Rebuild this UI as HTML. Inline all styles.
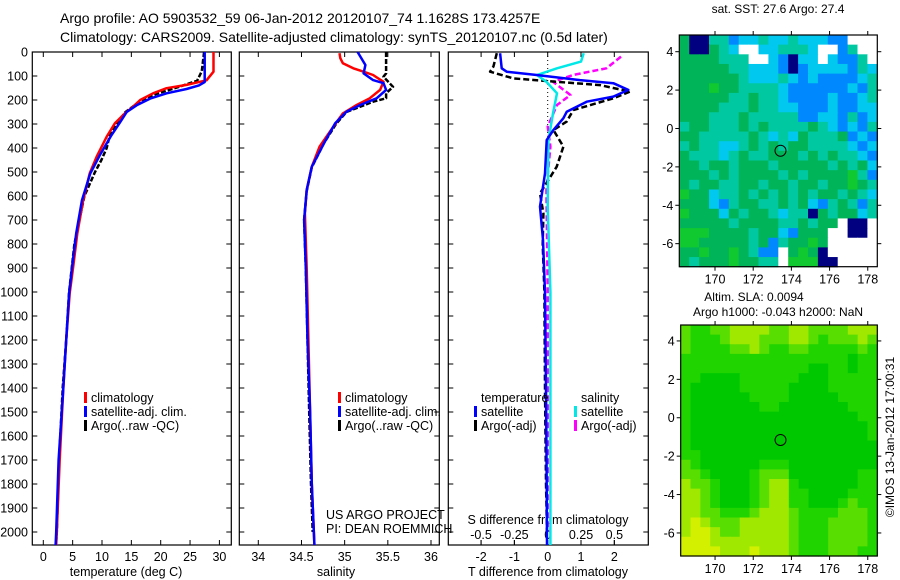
<!DOCTYPE html>
<html><head><meta charset="utf-8"><style>
body{margin:0;background:#fff;}
svg{display:block;font-family:"Liberation Sans",sans-serif;}
</style></head><body>
<svg id="c" width="900" height="580" viewBox="0 0 900 580"></svg>
<script>
// ---------- DATA ----------
const tDepth = [0,82,118,137,151,172,200,228,256,297,353,436,506,617,756,894,1006,1200,1400,1700,2000,2054];
const tClim  = [29.0,29.0,27.8,24.4,21.0,18.7,16.5,15.3,13.9,12.2,10.8,9.1,7.9,6.8,5.8,5.1,4.5,3.9,3.4,2.8,2.3,2.2];
const tSatDepth = [0,125,139,154,172,194,222,250,292,347,431,506,617,756,894,1006,1200,1400,1700,2000,2054];
const tSat   = [27.5,27.5,26.5,24.4,21.0,18.2,15.9,14.2,13.1,11.6,9.6,8.0,6.6,5.6,4.9,4.4,3.9,3.4,2.6,2.2,2.1];
const tArgoDepth = [0,80,120,150,175,200,250,300,350,400,450,500,600,800,1000,1200,1400,1700,2000,2040];
const tArgo  = [27.4,27.0,26.2,22.5,19.2,16.8,14.0,12.4,11.3,10.8,9.9,8.8,7.0,5.3,4.4,3.9,3.3,2.7,2.3,2.2];

const sDepth = [5,26,47,68,82,96,124,158,193,221,256,311,394,478,575,672,900,1200,1500,1800,2054];
const sClim  = [34.94,34.95,34.98,35.10,35.22,35.33,35.45,35.41,35.29,35.14,34.98,34.87,34.71,34.62,34.56,34.54,34.56,34.58,34.60,34.62,34.65];
const sSatDepth = [0,54,89,117,130,158,193,221,249,297,381,478,575,700,900,1200,1500,1800,2054];
const sSat   = [35.15,35.24,35.22,35.33,35.45,35.48,35.37,35.18,35.02,34.89,34.76,34.62,34.56,34.53,34.55,34.57,34.60,34.62,34.65];
const sArgoDepth = [0,89,103,145,172,193,207,250,300,380,480,580,700,900,1200,1500,1800,2000];
const sArgo  = [35.48,35.48,35.45,35.56,35.48,35.48,35.33,35.02,34.90,34.76,34.62,34.56,34.53,34.55,34.57,34.59,34.61,34.63];

const dDepth = [5,68,82,96,117,130,158,186,207,249,276,325,367,506,644,783,1000,1400,1800,2054];
const dTSat  = [-1.43,-1.38,-1.23,-0.33,0.97,1.97,2.42,1.97,1.17,0.57,0.47,0.17,-0.03,-0.08,-0.23,-0.14,-0.08,-0.05,-0.03,-0.02];
const dArgoDepth = [5,61,82,110,124,138,165,193,242,290,325,394,478,589,672,800,1000,1400,1800,2000];
const dTArgo = [-1.53,-1.63,-1.73,-1.03,0.27,1.57,2.47,1.97,0.77,0.57,0.17,0.47,0.27,-0.23,-0.13,-0.15,-0.1,-0.08,-0.05,-0.02];
const dSDepth = [5,40,68,96,124,172,256,367,644,1000,1500,2054];
const dSSat  = [0.27,0.25,0.07,-0.08,-0.01,0.07,0.04,0.005,0.0,0.02,0.02,0.02];
const dSArgoDepth = [19,68,96,124,179,221,311,394,575,1000,1500,2000];
const dSArgo = [0.55,0.44,0.19,0.04,0.17,0.07,0.0,0.02,-0.01,0.0,0.0,0.0];

const depthTicks = [0,100,200,300,400,500,600,700,800,900,1000,1100,1200,1300,1400,1500,1600,1700,1800,1900,2000];
const tTicks = [0,5,10,15,20,25,30];
const sTicks = [34,34.5,35,35.5,36];
const sTickLabels = ["34","34.5","35","35.5","36"];
const dtTicks = [-2,-1,0,1,2];
const dsTicks = [-0.5,-0.25,0,0.25,0.5];
const dsTickLabels = ["-0.5","-0.25","0","0.25","0.5"];
const lonTicks = [170,172,174,176,178];
const latTicks = [4,2,0,-2,-4,-6];

// SST map grid (rows lat top->bottom, cols lon left->right)
const sstRows = [
"Gnnttbcctcctcccbbwww",
"GnnGtcwwcctttcwwbtww",
"GGGGtttwwcbnccwcbbtw",
"GGGGGttcccbnbccccbtc",
"GGGGGGtccctcbcbbbbct",
"GGGgGGttttcbbbbbbcbt",
"GGGGGttGttcbbbbcbbct",
"GGGGtttGttccbbbcbbcc",
"GGGtttGtttttbbccbtbc",
"tGGtttGtGttttGtcbcbt",
"GGtttttGtctcGtttGbcb",
"tGttcctGtGtGGttttcbc",
"GtttctGttGGGtGtGttcb",
"GGtGGtGGGtGGGGGtGtGc",
"GGGtGtGGGGtGtGGGGgtb",
"GtGGttGGtGGtGGtGGgGt",
"gGGcttGtGtGtGtGGtGtc",
"GGGcbtGGttGtGcbtGtbt",
"gGGGcGtGGtcttnGtGGct",
"GGGGGtGGGGttGtGGwnnw",
"gggGGGGtGGcbGGGwwnnw",
"ggGGGGGtGbtGGgGwwwww",
"GGgGGgGtbbwGgGnwwwww",
"GtGGGgGGttwgggnnwwww"];
const slaRows = [
"21122333322332222333",
"21112333222332122232",
"21111223211221111121",
"11111111111111111011",
"11111111111110011011",
"11000011111100011111",
"10000011111000011111",
"10000001111000001111",
"10000000110000000111",
"10000000000000000011",
"10000000000000000001",
"10000000000000000001",
"10000000000000000000",
"11000000000000000000",
"21000000111000000000",
"22100001222000000011",
"32210001233100000011",
"33210001233110000111",
"33210001233110001211",
"33221112333211112221",
"34322233333211122221",
"34432233333211122221",
"44433333333211122221",
"44443334333211122211"];
const sstColors = {g:"#10c830",G:"#00b45a",t:"#00c8a0",c:"#00c8ee",b:"#0088ff",n:"#000080",w:"#ffffff"};
const slaColors = ["#00c800","#20d400","#58de00","#a0e800","#d2f000"];

// ---------- HELPERS ----------
const svg = document.getElementById('c');
const NS = "http://www.w3.org/2000/svg";
function el(tag, attrs, parent){
  const e = document.createElementNS(NS, tag);
  for (const k in attrs) e.setAttribute(k, attrs[k]);
  (parent||svg).appendChild(e);
  return e;
}
function txt(x,y,s,anchor,size,parent){
  const t = el('text',{x:x,y:y,'font-size':size||12.5,'text-anchor':anchor||'start',fill:'#000'},parent);
  t.textContent = s;
  return t;
}
const yD = d => 52 + d*0.24;
const xT = v => 43.3 + v*5.87;
const xS = v => 258.3 + (v-34)*86.35;
const xDT = v => 547.7 + v*33.3;
const xDS = v => 547.7 + v*133.3;

function line(xs, ds, fx, color, w, dash, name){
  const pts = xs.map((v,i)=> fx(v).toFixed(1)+","+yD(ds[i]).toFixed(1)).join(" ");
  const p = el('polyline',{points:pts,fill:'none',stroke:color,'stroke-width':w,'stroke-dasharray':dash||'none','stroke-linejoin':'round'});
  
  
}

// ---------- TITLES ----------
const title1 = txt(60,23,"Argo profile: AO 5903532_59 06-Jan-2012 20120107_74 1.1628S 173.4257E","start",14);


const title2 = txt(60,42,"Climatology: CARS2009. Satellite-adjusted climatology: synTS_20120107.nc (0.5d later)","start",14);



// ---------- PANEL FRAMES ----------
const panels = [[32.3,231.3,'temperature-panel'],[239.3,439.3,'salinity-panel'],[448.3,648.3,'difference-panel']];
panels.forEach(p=>{
  const r = el('rect',{x:p[0],y:52,width:p[1]-p[0],height:545-52,fill:'none',stroke:'#000','stroke-width':1.2});
  
  
  depthTicks.forEach(d=>{
    el('line',{x1:p[0],x2:p[0]+5,y1:yD(d),y2:yD(d),stroke:'#000'});
    el('line',{x1:p[1],x2:p[1]-5,y1:yD(d),y2:yD(d),stroke:'#000'});
  });
});
depthTicks.forEach(d=>{
  const t = txt(28,yD(d)+4.5,String(d),'end',12.5);
  
  
});

// temperature axis
tTicks.forEach(v=>{
  el('line',{x1:xT(v),x2:xT(v),y1:545,y2:540,stroke:'#000'});
  el('line',{x1:xT(v),x2:xT(v),y1:52,y2:57,stroke:'#000'});
  const t = txt(xT(v),561,String(v),'middle',12.5);
  
  
});
const tx1 = txt(126,576,"temperature (deg C)","middle",12.5);



// salinity axis
sTicks.forEach((v,i)=>{
  el('line',{x1:xS(v),x2:xS(v),y1:545,y2:540,stroke:'#000'});
  el('line',{x1:xS(v),x2:xS(v),y1:52,y2:57,stroke:'#000'});
  const t = txt(xS(v),561,sTickLabels[i],'middle',12.5);
  
  
});
const tx2 = txt(336,576,"salinity","middle",12.5);



// difference axes
dtTicks.forEach(v=>{
  el('line',{x1:xDT(v),x2:xDT(v),y1:545,y2:540,stroke:'#000'});
  el('line',{x1:xDT(v),x2:xDT(v),y1:52,y2:57,stroke:'#000'});
  const t = txt(xDT(v),561,String(v),'middle',12.5);
  
  
});
dsTicks.forEach((v,i)=>{
  el('line',{x1:xDS(v),x2:xDS(v),y1:545,y2:540,stroke:'#000'});
  const t = txt(xDS(v),539,dsTickLabels[i],'middle',12.5);
  
  
});
const tx3 = txt(548,524,"S difference from climatology","middle",12.5);


const tx4 = txt(548,576,"T difference from climatology","middle",12.5);


const zl = el('line',{x1:xDT(0),x2:xDT(0),y1:52,y2:yD(700),stroke:'#000','stroke-dasharray':'1 3'});



// ---------- SERIES ----------
line(tArgo,tArgoDepth,xT,'#000',2.5,'5 2','temp-argo-line');
line(tClim,tDepth,xT,'#ff0000',2.5,null,'temp-climatology-line');
line(tSat,tSatDepth,xT,'#0000ff',2.5,null,'temp-satellite-line');

line(sArgo,sArgoDepth,xS,'#000',2.5,'5 2','sal-argo-line');
line(sClim,sDepth,xS,'#ff0000',2.5,null,'sal-climatology-line');
line(sSat,sSatDepth,xS,'#0000ff',2.5,null,'sal-satellite-line');

line(dSArgo,dSArgoDepth,xDS,'#ff00ff',2.5,'6 3','s-diff-argo-line');
line(dTArgo,dArgoDepth,xDT,'#000',2.5,'6 3','t-diff-argo-line');
line(dSSat,dSDepth,xDS,'#00e8e8',2.5,null,'s-diff-satellite-line');
line(dTSat,dDepth,xDT,'#0000ff',2.5,null,'t-diff-satellite-line');

// ---------- LEGENDS ----------
function legend(x,y,color,label,name){
  const g = el('g',{});
  
  
  el('rect',{x:x,y:y-10,width:3,height:11,fill:color},g);
  txt(x+7,y,label,'start',12.5,g);
}
legend(84,402,'#ff0000','climatology','legend-climatology-temp');
legend(84,416,'#0000ff','satellite-adj. clim.','legend-satellite-temp');
legend(84,430,'#000','Argo(..raw -QC)','legend-argo-temp');
legend(338,402,'#ff0000','climatology','legend-climatology-sal');
legend(338,416,'#0000ff','satellite-adj. clim.','legend-satellite-sal');
legend(338,430,'#000','Argo(..raw -QC)','legend-argo-sal');
const lt = txt(481,402,"temperature","start",12.5);


const ls = txt(581,402,"salinity","start",12.5);


legend(474,416,'#0000ff','satellite','legend-t-satellite');
legend(474,430,'#000','Argo(-adj)','legend-t-argo');
legend(574,416,'#00e8e8','satellite','legend-s-satellite');
legend(574,430,'#ff00ff','Argo(-adj)','legend-s-argo');
const us = txt(326,519,"US ARGO PROJECT","start",12.5);


const pi = txt(326,533,"PI: DEAN ROEMMICH","start",12.5);



// ---------- MAPS ----------
function map(x0,x1,y0,y1,lonL,lonR,latT,latB,rows,colorFn,name){
  const g = el('g',{});
  
  
  const nr = rows.length, nc = rows[0].length;
  const cw = (x1-x0)/nc, ch = (y1-y0)/nr;
  rows.forEach((row,r)=>{
    for(let c=0;c<nc;c++){
      el('rect',{x:(x0+c*cw).toFixed(2),y:(y0+r*ch).toFixed(2),width:(cw+0.6).toFixed(2),height:(ch+0.6).toFixed(2),fill:colorFn(row[c])},g);
    }
  });
  const lx = v => x0 + (v-lonL)/(lonR-lonL)*(x1-x0);
  const ly = v => y0 + (latT-v)/(latT-latB)*(y1-y0);
  el('rect',{x:x0,y:y0,width:x1-x0,height:y1-y0,fill:'none',stroke:'#000','stroke-width':1.2},g);
  lonTicks.forEach(v=>{
    el('line',{x1:lx(v),x2:lx(v),y1:y1,y2:y1+4,stroke:'#000'},g);
    el('line',{x1:lx(v),x2:lx(v),y1:y0,y2:y0-4,stroke:'#000'},g);
    const t = txt(lx(v),y1+17,String(v),'middle',12.5,g);
    
    
  });
  latTicks.forEach(v=>{
    el('line',{x1:x0,x2:x0-4,y1:ly(v),y2:ly(v),stroke:'#000'},g);
    el('line',{x1:x1,x2:x1+4,y1:ly(v),y2:ly(v),stroke:'#000'},g);
    const t = txt(x0-6,ly(v)+4.5,String(v),'end',12.5,g);
    
    
  });
  const circ = el('circle',{cx:lx(173.43),cy:ly(-1.16),r:5.5,fill:'none',stroke:'#000','stroke-width':1},g);
  
  
}
map(679.3,877.3,35,266.7,168.13,178.5,4.87,-7.2,sstRows,ch=>sstColors[ch],'sst-map');
map(680.7,877.3,325,556,168.2,178.5,4.83,-7.2,slaRows,ch=>slaColors[+ch],'sla-map');

const m1 = txt(778,13,"sat. SST: 27.6 Argo: 27.4","middle",12);


const m2 = txt(754,301,"Altim. SLA: 0.0094","middle",12);


const m3 = txt(778,316,"Argo h1000: -0.043 h2000: NaN","middle",12);


const cp = txt(0,0,"©IMOS 13-Jan-2012 17:00:31","middle",12);
cp.setAttribute('transform','translate(894,437) rotate(-90)');


</script>
</body></html>
